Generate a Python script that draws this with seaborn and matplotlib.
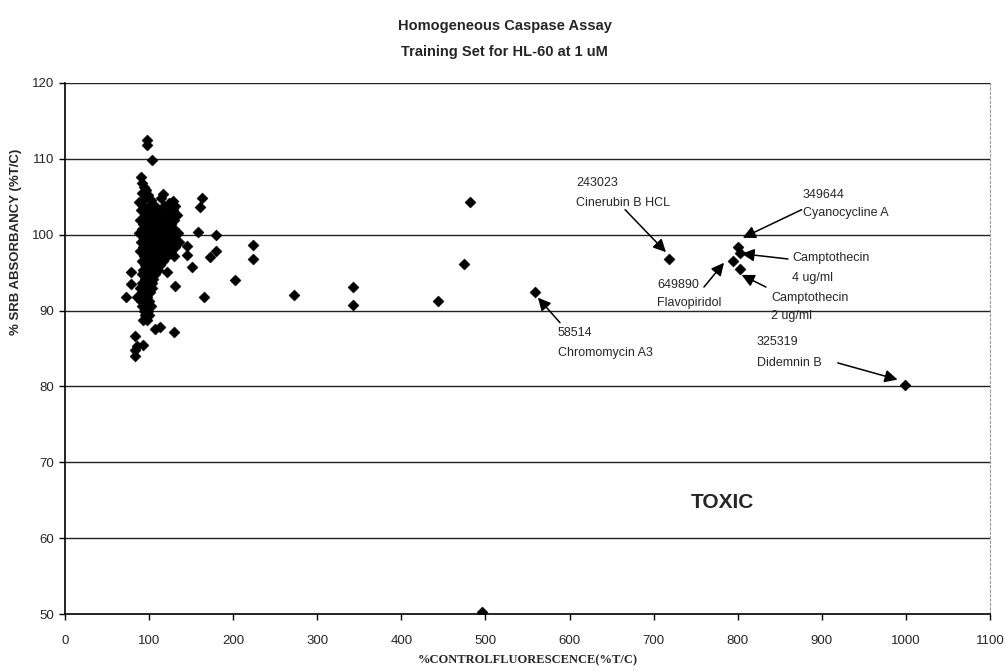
import matplotlib
matplotlib.use("Agg")
import matplotlib.pyplot as plt
import seaborn as sns
import pandas as pd

# ---- data ----
cluster_x = [98, 98, 104, 90, 91, 94, 96, 92, 116, 114, 128, 124, 95, 99, 88, 102,
             93, 100, 107, 118, 126, 131,
             90, 97, 104, 111, 122, 128,
             95, 101, 109, 115, 124, 133,
             89, 98, 106, 113, 120, 129,
             93, 103, 110, 117, 126,
             91, 99, 105, 112, 121, 130,
             88, 96, 102, 108, 116, 125, 134,
             94, 100, 107, 114, 122, 129,
             90, 97, 104, 111, 118, 127, 136,
             93, 101, 108, 116, 123, 131,
             89, 96, 103, 112, 120, 126,
             94, 100, 106, 114, 121, 129,
             92, 99, 105, 110, 117,
             95, 101, 108, 113,
             93, 98, 104, 111,
             91, 97, 102, 107,
             95, 100, 105,
             92, 98, 103,
             94, 99, 104, 89,
             96, 101, 91,
             93, 98, 86,
             95, 100, 90,
             92, 97, 102,
             94, 99,
             95, 100,
             97, 93,
             78, 78, 131, 121, 73, 165, 107, 113, 129, 83, 85, 83, 83, 93]
cluster_y = [112.5, 111.8, 109.9, 107.6, 106.8, 106.3, 105.9, 105.5, 105.4, 104.9, 104.4, 104.2, 104.9, 105.2, 104.3, 104.6,
             103.8, 103.8, 103.8, 103.8, 103.8, 103.8,
             103.2, 103.2, 103.2, 103.2, 103.2, 103.2,
             102.6, 102.6, 102.6, 102.6, 102.6, 102.6,
             102.0, 102.0, 102.0, 102.0, 102.0, 102.0,
             101.4, 101.4, 101.4, 101.4, 101.4,
             100.8, 100.8, 100.8, 100.8, 100.8, 100.8,
             100.2, 100.2, 100.2, 100.2, 100.2, 100.2, 100.2,
             99.6, 99.6, 99.6, 99.6, 99.6, 99.6,
             99.0, 99.0, 99.0, 99.0, 99.0, 99.0, 99.0,
             98.4, 98.4, 98.4, 98.4, 98.4, 98.4,
             97.8, 97.8, 97.8, 97.8, 97.8, 97.8,
             97.2, 97.2, 97.2, 97.2, 97.2, 97.2,
             96.6, 96.6, 96.6, 96.6, 96.6,
             96.0, 96.0, 96.0, 96.0,
             95.4, 95.4, 95.4, 95.4,
             94.8, 94.8, 94.8, 94.8,
             94.2, 94.2, 94.2,
             93.6, 93.6, 93.6,
             93.0, 93.0, 93.0, 93.0,
             92.4, 92.4, 92.4,
             91.8, 91.8, 91.8,
             91.2, 91.2, 91.2,
             90.6, 90.6, 90.6,
             90.0, 90.0,
             89.4, 89.4,
             88.8, 88.8,
             95.1, 93.5, 93.2, 95.1, 91.8, 91.8, 87.6, 87.8, 87.2, 86.6, 85.3, 84.8, 84.0, 85.5]
spread_x = [162.5, 160.5, 158, 179, 144.7, 144.7, 150.7, 179.5, 172.4, 224, 224, 202,
            272, 342, 342, 443, 474, 482, 559, 718.5, 800, 803, 794, 803, 999, 496]
spread_y = [104.8, 103.7, 100.4, 100.0, 98.5, 97.3, 95.8, 97.8, 97.1, 98.6, 96.8, 94.0,
            92.1, 93.1, 90.8, 91.2, 96.1, 104.3, 92.5, 96.8, 98.4, 97.6, 96.5, 95.5, 80.2, 50.3]

x_ticks = [0, 100, 200, 300, 400, 500, 600, 700, 800, 900, 1000, 1100]
y_ticks = [50, 60, 70, 80, 90, 100, 110, 120]

annot_lines = [["243023", "Cinerubin B HCL"],
               ["349644", "Cyanocycline A"],
               ["Camptothecin", "4 ug/ml"],
               ["Camptothecin", "2 ug/ml"],
               ["649890", "Flavopiridol"],
               ["58514", "Chromomycin A3"],
               ["325319", "Didemnin B"]]
annot_text_xy = [(607.6, 106.8), (877.5, 105.2), (864.4, 96.9), (839.5, 91.7),
                 (704.0, 93.4), (586.2, 87.1), (822.8, 85.9)]
annot_tail = [(666, 103.3), (876, 103.3), (859.7, 96.8), (833.5, 93.1),
              (759.8, 93.1), (588.6, 88.4), (919, 83.1)]
annot_head = [(714.6, 97.7), (806, 99.6), (804.6, 97.5), (804.6, 94.7),
              (783.6, 96.3), (562.4, 91.7), (990, 80.9)]
annot_dy = [2.6, 2.3, 2.6, 2.4, 2.4, 2.7, 2.8]

df = pd.DataFrame({"x": cluster_x + spread_x, "y": cluster_y + spread_y})

sns.set_theme(style="white")
plt.rcParams["font.family"] = ["Liberation Sans", "DejaVu Sans"]

fig = plt.figure(figsize=(10.05, 6.72), dpi=100)
ax = fig.add_axes([0.0647, 0.0863, 0.9204, 0.7902])

sns.scatterplot(data=df, x="x", y="y", marker="D", color="black", s=32,
                edgecolor="black", linewidth=0.3, ax=ax, zorder=3)

ax.set_xlim(0, 1100)
ax.set_ylim(50, 120)
ax.set_xticks(x_ticks)
ax.set_yticks(y_ticks)
ax.set_xticklabels([str(t) for t in x_ticks], fontsize=9.5)
ax.set_yticklabels([str(t) for t in y_ticks], fontsize=9.5)
ax.tick_params(axis="both", which="major", direction="out", length=4, width=1,
               color="black", pad=4, bottom=True, left=True)
ax.tick_params(axis="x", pad=11)

for gy in y_ticks[1:]:
    ax.axhline(gy, color="#222222", lw=1.0, zorder=1)

for side in ["left", "bottom"]:
    ax.spines[side].set_color("black")
    ax.spines[side].set_linewidth(1.2)
ax.spines["top"].set_visible(False)
ax.spines["right"].set_color("#999999")
ax.spines["right"].set_linewidth(0.8)
ax.spines["right"].set_linestyle((0, (2, 2)))

ax.set_xlabel("%CONTROLFLUORESCENCE(%T/C)", fontsize=9, fontweight="bold",
              family=["Liberation Serif", "DejaVu Serif"])
ax.xaxis.set_label_coords(0.5, -0.075)
ax.set_ylabel("% SRB ABSORBANCY (%T/C)", fontsize=9.5, fontweight="bold")
ax.yaxis.set_label_coords(-0.046, 0.70)

fig.text(0.502, 0.961, "Homogeneous Caspase Assay", ha="center", va="center",
         fontsize=10.5, fontweight="bold")
fig.text(0.502, 0.922, "Training Set for HL-60 at 1 uM", ha="center", va="center",
         fontsize=10.5, fontweight="bold")

for lines, (tx, ty), tail, head, dy in zip(annot_lines, annot_text_xy, annot_tail,
                                           annot_head, annot_dy):
    for i, line in enumerate(lines):
        ax.text(tx, ty - i * dy, line, fontsize=9, ha="left", va="center")
    ax.annotate("", xy=head, xytext=tail,
                arrowprops=dict(arrowstyle="-|>", color="black", lw=1.1,
                                mutation_scale=19, shrinkA=0, shrinkB=0))

ax.text(782, 64.7, "TOXIC", fontsize=15, fontweight="bold", ha="center", va="center")

fig.savefig("out.png", dpi=100)
